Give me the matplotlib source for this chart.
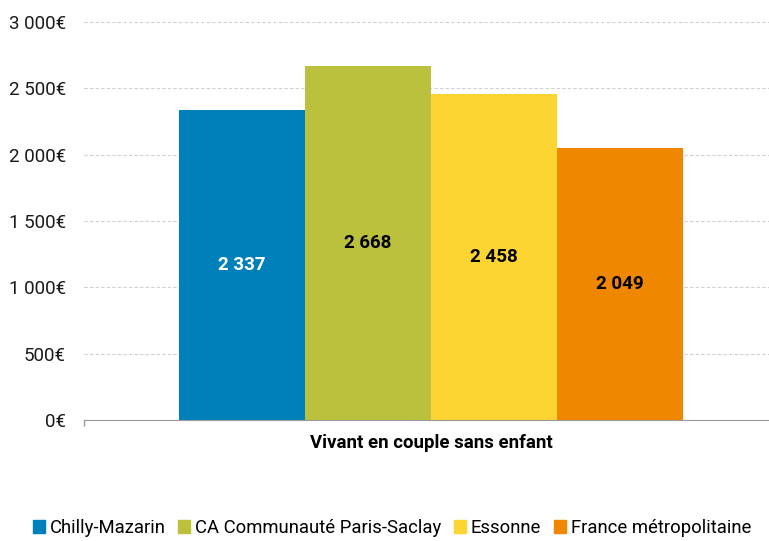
import matplotlib.pyplot as plt
from matplotlib.patches import Patch
from matplotlib.ticker import FuncFormatter

plt.rcParams['font.family'] = ['Roboto', 'DejaVu Sans']

# data
category = 'Vivant en couple sans enfant'
zones = ['Chilly-Mazarin', 'CA Communauté Paris-Saclay', 'Essonne', 'France métropolitaine']
values = [2337, 2668, 2458, 2049]
colors = ['#0080bb', '#bbc03d', '#fdd533', '#f08700']
label_colors = ['white', 'black', 'black', 'black']

W, H = 769, 541
fig = plt.figure(figsize=(W / 100, H / 100), dpi=100)
ax = fig.add_axes([84 / W, (H - 420) / H, 694 / W, 398 / H])

bar_w = 126 / 694
offsets = [(i - (len(values) - 1) / 2) * bar_w for i in range(len(values))]
for off, v, c, lc in zip(offsets, values, colors, label_colors):
    ax.bar(off, v, width=bar_w, color=c, zorder=2)
    txt = f'{v:,}'.replace(',', ' ')
    ax.text(off, v / 2, txt, ha='center', va='center', color=lc,
            fontsize=13.5, fontweight='bold', zorder=3)

ax.set_xlim(-0.5, 0.5)
ax.set_ylim(0, 3000)
ax.set_yticks(range(0, 3001, 500))
ax.yaxis.set_major_formatter(FuncFormatter(lambda y, p: f'{int(y):,}'.replace(',', ' ') + '€'))
ax.tick_params(axis='y', length=0, labelsize=13.5, pad=13, labelcolor='#1a1a1a')
ax.set_xticks([-0.5])
ax.set_xticklabels([''])
ax.tick_params(axis='x', length=4, color='#999999', width=1)
ax.grid(axis='y', color='#d0d0d0', linestyle=(0, (3, 2)), linewidth=0.8, zorder=0)
for s in ['top', 'right', 'left']:
    ax.spines[s].set_visible(False)
ax.spines['bottom'].set_color('#999999')
ax.spines['bottom'].set_zorder(4)

ax.text(0, -0.058, category, transform=ax.get_xaxis_transform(), ha='center', va='center',
        fontsize=13.4, fontweight='bold')

handles = [Patch(color=c, label=z) for z, c in zip(zones, colors)]
fig.legend(handles=handles, loc='center left', bbox_to_anchor=(33 / W, (H - 528) / H),
           ncol=4, frameon=False, fontsize=13.3, handlelength=0.65, handleheight=0.65,
           handletextpad=0.25, columnspacing=0.7, borderpad=0, borderaxespad=0)

fig.savefig('out.png', dpi=100)
